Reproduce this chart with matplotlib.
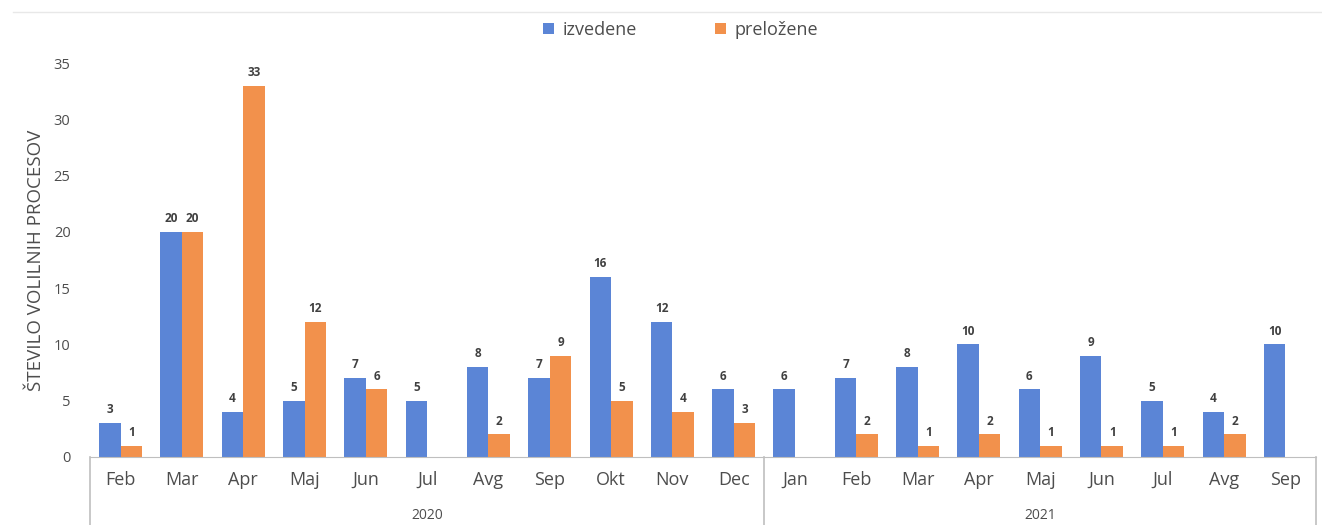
import numpy as np
import matplotlib
matplotlib.use("Agg")
import matplotlib.pyplot as plt
import matplotlib.transforms as mtransforms
from matplotlib.lines import Line2D

plt.rcParams["font.family"] = ["Open Sans", "DejaVu Sans"]

MONTHS = ["Feb", "Mar", "Apr", "Maj", "Jun", "Jul", "Avg", "Sep", "Okt", "Nov", "Dec",
          "Jan", "Feb", "Mar", "Apr", "Maj", "Jun", "Jul", "Avg", "Sep"]
YEARS = ["2020", "2021"]
YEAR_COUNTS = [11, 9]
izvedene = [3, 20, 4, 5, 7, 5, 8, 7, 16, 12, 6, 6, 7, 8, 10, 6, 9, 5, 4, 10]
prelozene = [1, 20, 33, 12, 6, 0, 2, 9, 5, 4, 3, 0, 2, 1, 2, 1, 1, 1, 2, 0]

BLUE = "#5b85d6"
ORANGE = "#f2914c"
TXT = "#4d4d4d"

fig = plt.figure(figsize=(13.22, 5.25), dpi=100)
ax = fig.add_axes([90 / 1322, 68 / 525, 1226 / 1322, 394 / 525])

x = np.arange(len(MONTHS))
w = 0.35
b1 = ax.bar(x - w / 2, izvedene, w, color=BLUE, label="izvedene")
b2 = ax.bar(x + w / 2, prelozene, w, color=ORANGE, label="preložene")

for bars, vals in ((b1, izvedene), (b2, prelozene)):
    for r, v in zip(bars, vals):
        if v == 0:
            continue
        ax.text(r.get_x() + r.get_width() / 2, v + 0.6, str(v), ha="center", va="bottom",
                fontsize=8.5, fontweight="bold", color="#404040")

ax.set_xlim(-0.5, len(MONTHS) - 0.5)
ax.set_ylim(0, 35)
ax.set_yticks(range(0, 36, 5))
ax.tick_params(axis="y", length=0, labelsize=10.5, labelcolor=TXT, pad=14)
ax.set_xticks([])
for s in ("top", "right", "left"):
    ax.spines[s].set_visible(False)
ax.spines["bottom"].set_color("#bfbfbf")
ax.set_ylabel("ŠTEVILO VOLILNIH PROCESOV", fontsize=13.5, color=TXT, labelpad=6)

# two-level category axis
trans = mtransforms.blended_transform_factory(ax.transData, ax.transAxes)
for i, m in enumerate(MONTHS):
    ax.text(i, -0.058, m, transform=trans, ha="center", va="center", fontsize=13, color=TXT)

edges = np.concatenate([[0], np.cumsum(YEAR_COUNTS)]) - 0.5
for e in edges:
    ax.add_line(Line2D([e, e], [0, -0.175], transform=trans, color="#bfbfbf", lw=1.2, clip_on=False))
for yr, a, b in zip(YEARS, edges[:-1], edges[1:]):
    ax.text((a + b) / 2, -0.148, yr, transform=trans, ha="center", va="center", fontsize=10, color=TXT)

fig.legend(handles=[b1, b2], loc="center", bbox_to_anchor=(0.515, 0.943), ncol=2, frameon=False,
           fontsize=13, handlelength=0.6, handleheight=0.6, handletextpad=0.5, columnspacing=4.3,
           labelcolor=TXT)

fig.add_artist(Line2D([0.01, 1.0], [1 - 12 / 525, 1 - 12 / 525], transform=fig.transFigure,
                      color="#e8e8e8", lw=1))

fig.savefig("out.png", dpi=100)
